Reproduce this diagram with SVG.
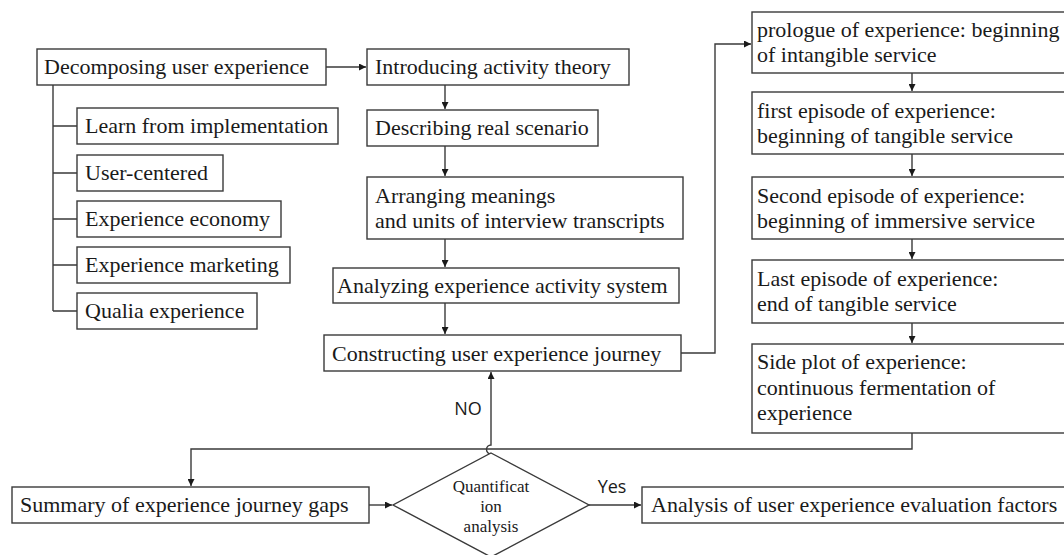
<svg xmlns="http://www.w3.org/2000/svg" width="1064" height="555" viewBox="0 0 1064 555">
  <style>
    .box { fill: #ffffff; stroke: #3a3a3a; stroke-width: 1.4; }
    .t { font-family: "Liberation Serif", "Times New Roman", serif; font-size: 22px; fill: #1a1a1a; }
    .ts { font-family: "Liberation Serif", "Times New Roman", serif; font-size: 17px; fill: #1a1a1a; text-anchor: middle; }
    .lbl { font-family: "Open Sans", "Liberation Sans", sans-serif; font-size: 18px; fill: #1a1a1a; text-anchor: middle; }
    .ln { fill: none; stroke: #3a3a3a; stroke-width: 1.4; }
    .arr { fill: none; stroke: #3a3a3a; stroke-width: 1.4; marker-end: url(#ah); }
  </style>
  <defs>
    <marker id="ah" viewBox="0 0 10 10" refX="10" refY="5" markerWidth="7" markerHeight="7" markerUnits="userSpaceOnUse" orient="auto">
      <path d="M0,0 L10,5 L0,10 z" fill="#1a1a1a"/>
    </marker>
  </defs>
  <rect width="1064" height="555" fill="#ffffff"/>

  <!-- connectors -->
  <g id="connectors">
    <!-- branch spine of the decomposition -->
    <path class="ln" d="M53,85 V311 M53,126 H77 M53,173 H77 M53,219 H77 M53,265 H77 M53,311 H77"/>
    <path class="arr" d="M326,67 H366"/>
    <path class="arr" d="M445,85 V109"/>
    <path class="arr" d="M445,146 V176"/>
    <path class="arr" d="M445,239 V267"/>
    <path class="arr" d="M445,303 V334"/>
    <path class="arr" d="M681,353 H715 V44 H751"/>
    <path class="arr" d="M912,73 V91"/>
    <path class="arr" d="M912,154 V176"/>
    <path class="arr" d="M912,239 V259"/>
    <path class="arr" d="M912,323 V343"/>
    <path class="arr" d="M912,433 V449 H191 V486"/>
    <path class="arr" d="M369,505 H392"/>
    <!-- NO branch, hopping over the return line -->
    <path class="arr" d="M491,453 V454 A4.5,4.5 0 0,1 491,445 V372"/>
    <path class="arr" d="M589,505 H641"/>
    <text class="lbl" x="468" y="415">NO</text>
    <text class="lbl" x="612" y="493">Yes</text>
  </g>

  <g id="decompose">
    <rect class="box" x="37" y="49" width="289" height="36"/>
    <text class="t" x="44" y="74">Decomposing user experience</text>
  </g>
  <g id="learn">
    <rect class="box" x="77" y="108" width="261" height="36"/>
    <text class="t" x="85" y="133">Learn from implementation</text>
  </g>
  <g id="user-centered">
    <rect class="box" x="77" y="155" width="146" height="36"/>
    <text class="t" x="85" y="180">User-centered</text>
  </g>
  <g id="economy">
    <rect class="box" x="77" y="201" width="204" height="36"/>
    <text class="t" x="85" y="226">Experience economy</text>
  </g>
  <g id="marketing">
    <rect class="box" x="77" y="247" width="213" height="36"/>
    <text class="t" x="85" y="272">Experience marketing</text>
  </g>
  <g id="qualia">
    <rect class="box" x="77" y="293" width="180" height="36"/>
    <text class="t" x="85" y="318">Qualia experience</text>
  </g>

  <g id="activity-theory">
    <rect class="box" x="367" y="49" width="262" height="36"/>
    <text class="t" x="375" y="74">Introducing activity theory</text>
  </g>
  <g id="scenario">
    <rect class="box" x="367" y="110" width="231" height="36"/>
    <text class="t" x="375" y="135">Describing real scenario</text>
  </g>
  <g id="arranging">
    <rect class="box" x="367" y="177" width="316" height="62"/>
    <text class="t" x="375" y="203">Arranging meanings</text>
    <text class="t" x="375" y="228">and units of interview transcripts</text>
  </g>
  <g id="analyzing">
    <rect class="box" x="333" y="268" width="346" height="35"/>
    <text class="t" x="337" y="293">Analyzing experience activity system</text>
  </g>
  <g id="constructing">
    <rect class="box" x="324" y="335" width="357" height="36"/>
    <text class="t" x="332" y="361">Constructing user experience journey</text>
  </g>

  <g id="prologue">
    <rect class="box" x="752" y="12" width="313" height="61"/>
    <text class="t" x="757" y="37">prologue of experience: beginning</text>
    <text class="t" x="757" y="62">of intangible service</text>
  </g>
  <g id="first-episode">
    <rect class="box" x="752" y="92" width="313" height="62"/>
    <text class="t" x="757" y="118">first episode of experience:</text>
    <text class="t" x="757" y="143">beginning of tangible service</text>
  </g>
  <g id="second-episode">
    <rect class="box" x="752" y="177" width="313" height="62"/>
    <text class="t" x="757" y="203">Second episode of experience:</text>
    <text class="t" x="757" y="228">beginning of immersive service</text>
  </g>
  <g id="last-episode">
    <rect class="box" x="752" y="260" width="313" height="63"/>
    <text class="t" x="757" y="286">Last episode of experience:</text>
    <text class="t" x="757" y="311">end of tangible service</text>
  </g>
  <g id="side-plot">
    <rect class="box" x="752" y="344" width="313" height="89"/>
    <text class="t" x="757" y="369">Side plot of experience:</text>
    <text class="t" x="757" y="395">continuous fermentation of</text>
    <text class="t" x="757" y="420">experience</text>
  </g>

  <g id="summary">
    <rect class="box" x="12" y="487" width="357" height="36"/>
    <text class="t" x="20" y="512">Summary of experience journey gaps</text>
  </g>
  <g id="decision">
    <path class="box" d="M491,453 L589,505 L491,557 L393,505 Z"/>
    <text class="ts" x="491" y="492">Quantificat</text>
    <text class="ts" x="491" y="512">ion</text>
    <text class="ts" x="491" y="532">analysis</text>
  </g>
  <g id="evaluation">
    <rect class="box" x="642" y="487" width="423" height="36"/>
    <text class="t" x="651" y="512">Analysis of user experience evaluation factors</text>
  </g>
</svg>
